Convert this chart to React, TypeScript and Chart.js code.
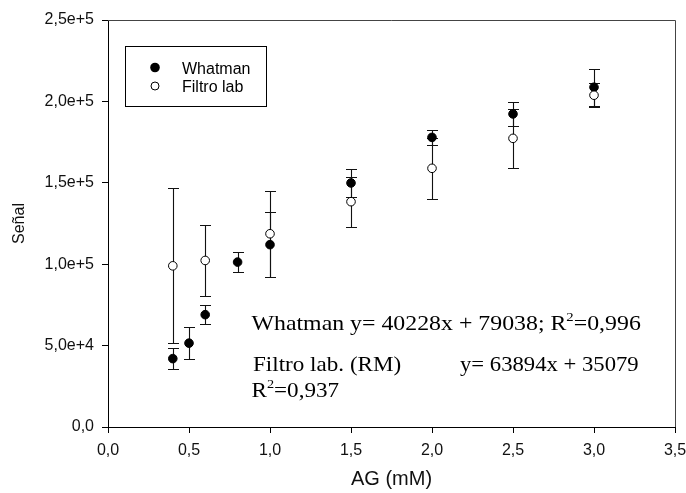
import React, { useEffect, useRef } from "react";
import { Chart, registerables } from "chart.js";

Chart.register(...registerables);

// ---- data ----
const whatmanX = [0.4, 0.5, 0.6, 0.8, 1.0, 1.5, 2.0, 2.5, 3.0];
const whatmanY = [42000, 51500, 69000, 101300, 112000, 149900, 177900, 192300, 208700];
const whatmanErr = [6500, 10000, 6000, 6000, 20000, 8500, 4600, 7200, 11500];

const filtroX = [0.4, 0.6, 1.0, 1.5, 2.0, 2.5, 3.0];
const filtroY = [99000, 102300, 118700, 138400, 158900, 177300, 203800];
const filtroErr = [47500, 22000, 26500, 15300, 18900, 18200, 7400];

const xTickValues = [0, 0.5, 1.0, 1.5, 2.0, 2.5, 3.0, 3.5];
const xTickLabels = ["0,0", "0,5", "1,0", "1,5", "2,0", "2,5", "3,0", "3,5"];
const yTickValues = [0, 50000, 100000, 150000, 200000, 250000];
const yTickLabels = ["0,0", "5,0e+4", "1,0e+5", "1,5e+5", "2,0e+5", "2,5e+5"];

const seriesNames = ["Whatman", "Filtro lab"];
const xTitle = "AG (mM)";
const yTitle = "Señal";

const SANS = "'Liberation Sans', Arial, sans-serif";
const SERIF = "'Liberation Serif', 'Times New Roman', serif";

export default function App() {
  const ref = useRef<HTMLCanvasElement>(null);

  useEffect(() => {
    document.body.style.margin = "0";
    const canvas = ref.current!;

    const series = [
      { x: whatmanX, y: whatmanY, err: whatmanErr },
      { x: filtroX, y: filtroY, err: filtroErr },
    ];

    const errorBars = {
      id: "errorBars",
      beforeDatasetsDraw(chart: any) {
        const ctx = chart.ctx;
        const xs = chart.scales.x;
        const ys = chart.scales.y;
        ctx.save();
        ctx.strokeStyle = "#111";
        ctx.lineWidth = 1.1;
        series.forEach((s) => {
          s.x.forEach((xv, i) => {
            const px = Math.round(xs.getPixelForValue(xv)) + 0.5;
            const yt = Math.round(ys.getPixelForValue(s.y[i] + s.err[i])) + 0.5;
            const yb = Math.round(ys.getPixelForValue(s.y[i] - s.err[i])) + 0.5;
            ctx.beginPath();
            ctx.moveTo(px, yt);
            ctx.lineTo(px, yb);
            ctx.moveTo(px - 5.5, yt);
            ctx.lineTo(px + 5.5, yt);
            ctx.moveTo(px - 5.5, yb);
            ctx.lineTo(px + 5.5, yb);
            ctx.stroke();
          });
        });
        ctx.restore();
      },
    };

    const drawScaled = (ctx: any, text: string, x: number, y: number, sx: number) => {
      ctx.save();
      ctx.translate(x, y);
      ctx.scale(sx, 1);
      ctx.fillText(text, 0, 0);
      const w = ctx.measureText(text).width * sx;
      ctx.restore();
      return w;
    };

    const decorations = {
      id: "decorations",
      afterDraw(chart: any) {
        const ctx = chart.ctx;
        const a = chart.chartArea;
        ctx.save();
        // top & right frame
        ctx.strokeStyle = "#444";
        ctx.lineWidth = 1;
        ctx.beginPath();
        ctx.moveTo(Math.round(a.left), Math.round(a.top) + 0.5);
        ctx.lineTo(Math.round(a.right) + 0.5, Math.round(a.top) + 0.5);
        ctx.lineTo(Math.round(a.right) + 0.5, Math.round(a.bottom));
        ctx.stroke();

        // legend box
        ctx.strokeStyle = "#000";
        ctx.strokeRect(125.5, 46.5, 141, 60);
        ctx.fillStyle = "#000";
        ctx.beginPath();
        ctx.arc(155, 67.5, 4.8, 0, Math.PI * 2);
        ctx.fill();
        ctx.beginPath();
        ctx.fillStyle = "#fff";
        ctx.arc(155, 86, 4, 0, Math.PI * 2);
        ctx.fill();
        ctx.stroke();
        ctx.fillStyle = "#000";
        ctx.font = "16px " + SANS;
        ctx.textBaseline = "alphabetic";
        ctx.textAlign = "left";
        ctx.fillText(seriesNames[0], 182, 73.5);
        ctx.fillText(seriesNames[1], 182, 91.5);

        // regression annotations
        const big = "21px " + SERIF;
        const small = "13px " + SERIF;
        let sx = 1.135;
        ctx.font = big;
        let x = 251.5;
        x += drawScaled(ctx, "Whatman y= 40228x + 79038; R", x, 330, sx);
        ctx.font = small;
        x += drawScaled(ctx, "2", x, 321, sx);
        ctx.font = big;
        drawScaled(ctx, "=0,996", x, 330, sx);

        sx = 1.1;
        drawScaled(ctx, "Filtro lab. (RM)", 253, 371, sx);
        drawScaled(ctx, "y= 63894x + 35079", 460, 371, 1.08);

        x = 251.5;
        x += drawScaled(ctx, "R", x, 397, sx);
        ctx.font = small;
        x += drawScaled(ctx, "2", x, 388, sx);
        ctx.font = big;
        drawScaled(ctx, "=0,937", x, 397, sx);
        ctx.restore();
      },
    };

    const chart = new Chart(canvas, {
      type: "scatter",
      data: {
        datasets: [
          {
            label: seriesNames[0],
            data: whatmanX.map((x, i) => ({ x, y: whatmanY[i] })),
            backgroundColor: "#000",
            borderColor: "#000",
            borderWidth: 1,
            pointRadius: 4.3,
            order: 2,
          },
          {
            label: seriesNames[1],
            data: filtroX.map((x, i) => ({ x, y: filtroY[i] })),
            backgroundColor: "#fff",
            borderColor: "#000",
            borderWidth: 1,
            pointRadius: 4.3,
            order: 1,
          },
        ],
      },
      options: {
        responsive: false,
        animation: false,
        devicePixelRatio: 1,
        layout: { padding: { top: 20, right: 11, left: 0, bottom: 0 } },
        plugins: {
          legend: { display: false },
          tooltip: { enabled: false },
        },
        scales: {
          x: {
            type: "linear",
            min: 0,
            max: 3.5,
            afterBuildTicks: (s: any) => {
              s.ticks = xTickValues.map((v) => ({ value: v }));
            },
            afterFit: (s: any) => {
              s.height = 66;
              s.paddingLeft = 0;
              s.paddingRight = 0;
            },
            ticks: {
              color: "#111",
              font: { family: SANS, size: 16 },
              padding: 8,
              maxRotation: 0,
              callback: (v: any) => xTickLabels[xTickValues.indexOf(Number(v))] ?? "",
            },
            grid: {
              drawOnChartArea: false,
              drawTicks: true,
              tickLength: 6,
              color: "#000",
              tickColor: "#000",
            },
            border: { display: true, color: "#000", width: 1 },
            title: {
              display: true,
              text: xTitle,
              color: "#111",
              font: { family: SANS, size: 20 },
              padding: { top: 0, bottom: 2 },
            },
          },
          y: {
            type: "linear",
            min: 0,
            max: 250000,
            afterBuildTicks: (s: any) => {
              s.ticks = yTickValues.map((v) => ({ value: v }));
            },
            afterFit: (s: any) => {
              s.width = 108;
              s.paddingTop = 0;
              s.paddingBottom = 0;
            },
            ticks: {
              color: "#111",
              font: { family: SANS, size: 16 },
              padding: 8,
              callback: (v: any) => yTickLabels[yTickValues.indexOf(Number(v))] ?? "",
            },
            grid: {
              drawOnChartArea: false,
              drawTicks: true,
              tickLength: 6,
              color: "#000",
              tickColor: "#000",
            },
            border: { display: true, color: "#000", width: 1 },
            title: {
              display: true,
              text: yTitle,
              color: "#111",
              font: { family: SANS, size: 16 },
              padding: { top: 10, bottom: 0 },
            },
          },
        },
      },
      plugins: [errorBars, decorations],
    });

    return () => chart.destroy();
  }, []);

  return (
    <canvas
      ref={ref}
      width={686}
      height={493}
      style={{ display: "block", width: 686, height: 493 }}
    />
  );
}
